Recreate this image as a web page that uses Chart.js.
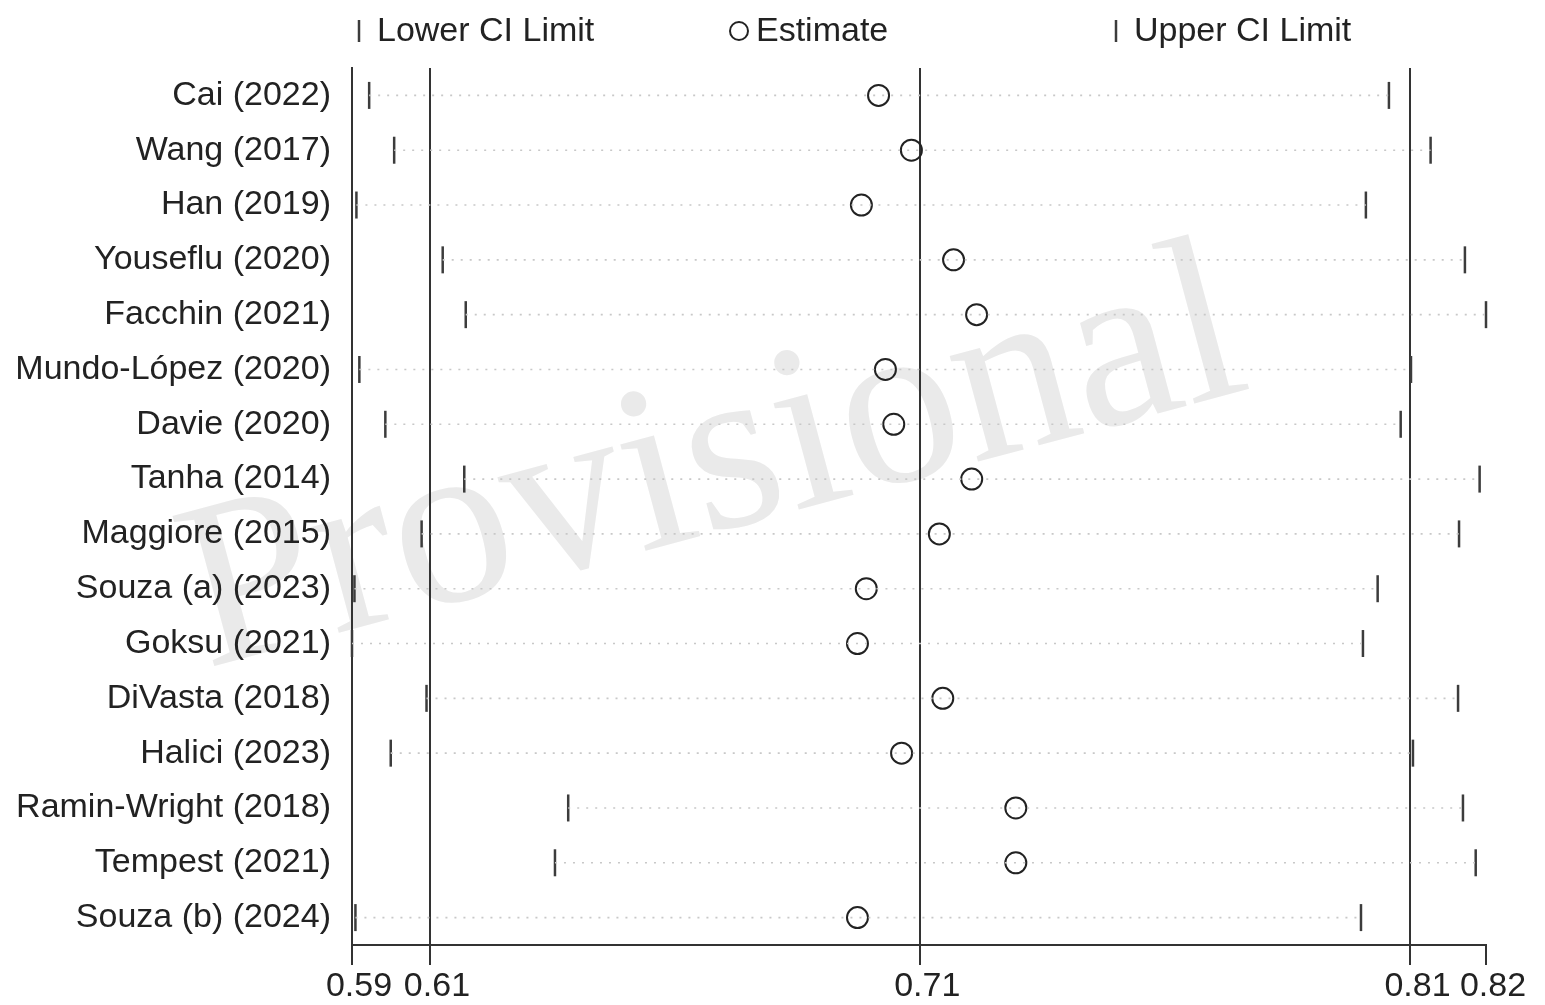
<!DOCTYPE html>
<html>
<head>
<meta charset="utf-8">
<script src="https://cdn.jsdelivr.net/npm/chart.js@4/dist/chart.umd.min.js"></script>
<style>
  html, body { margin: 0; padding: 0; background: #fff; }
  #wrap { width: 1545px; height: 1005px; position: relative; }
</style>
</head>
<body>
<div id="wrap"><canvas id="c"></canvas></div>
<script>
// Leave-one-out sensitivity analysis: pooled estimate with its confidence limits
const studies = [
  'Cai (2022)', 'Wang (2017)', 'Han (2019)', 'Youseflu (2020)', 'Facchin (2021)',
  'Mundo-López (2020)', 'Davie (2020)', 'Tanha (2014)', 'Maggiore (2015)',
  'Souza (a) (2023)', 'Goksu (2021)', 'DiVasta (2018)', 'Halici (2023)',
  'Ramin-Wright (2018)', 'Tempest (2021)', 'Souza (b) (2024)'
];
const estimate = [0.7015, 0.7082, 0.6980, 0.7168, 0.7215, 0.7029, 0.7046, 0.7205,
                  0.7139, 0.6990, 0.6972, 0.7146, 0.7062, 0.7295, 0.7295, 0.6972];
const lowerCI  = [0.5976, 0.6027, 0.5950, 0.6126, 0.6173, 0.5956, 0.6009, 0.6170,
                  0.6083, 0.5946, 0.5941, 0.6093, 0.6020, 0.6382, 0.6355, 0.5948];
const upperCI  = [0.8056, 0.8141, 0.8009, 0.8211, 0.8254, 0.8101, 0.8080, 0.8241,
                  0.8199, 0.8033, 0.8003, 0.8197, 0.8105, 0.8207, 0.8233, 0.7999];
const axisTicks = [0.5941, 0.61, 0.71, 0.81, 0.8254];
const axisTickLabels = ['0.59', '0.61', '0.71', '0.81', '0.82'];
const seriesNames = ['Lower CI Limit', 'Estimate', 'Upper CI Limit'];
const watermarkText = 'Provisional';

const FONT = '"Liberation Sans", Arial, Helvetica, sans-serif';
const INK = '#222';
const LINE = '#333';

// dotted span from lower to upper limit on every row
const spanSets = studies.map((s, i) => ({
  label: 'span-' + i,
  data: [{ x: lowerCI[i], y: s }, { x: upperCI[i], y: s }],
  borderColor: '#c8c8c8',
  borderWidth: 1.6,
  borderDash: [2, 7],
  pointRadius: 0,
  fill: false,
  clip: false
}));

const tickMarker = {
  showLine: false,
  pointStyle: 'line',
  rotation: 90,
  pointRadius: 13.5,
  pointBorderWidth: 2.5,
  pointBorderColor: '#3c3c3c',
  borderColor: '#3c3c3c',
  clip: false
};

const markerSets = [
  Object.assign({ label: seriesNames[0], data: studies.map((s, i) => ({ x: lowerCI[i], y: s })) }, tickMarker),
  {
    label: seriesNames[1],
    data: studies.map((s, i) => ({ x: estimate[i], y: s })),
    showLine: false,
    pointStyle: 'circle',
    pointRadius: 10.5,
    pointBorderWidth: 2,
    pointBorderColor: '#222',
    pointBackgroundColor: 'rgba(255,255,255,0)',
    borderColor: '#222',
    clip: false
  },
  Object.assign({ label: seriesNames[2], data: studies.map((s, i) => ({ x: upperCI[i], y: s })) }, tickMarker)
];

// faint diagonal stamp behind the plot
const stampPlugin = {
  id: 'stamp',
  beforeDraw(chart) {
    const ctx = chart.ctx;
    ctx.save();
    ctx.translate(730, 528);
    ctx.rotate(-15 * Math.PI / 180);
    ctx.font = '238px "Liberation Serif", "Times New Roman", serif';
    ctx.fillStyle = '#eaeaea';
    ctx.textAlign = 'center';
    ctx.textBaseline = 'alphabetic';
    ctx.fillText(watermarkText, 0, 0);
    ctx.restore();
  }
};

// key along the top edge: tick / circle / tick
const keyLayout = [
  { x: 359, kind: 'tick' },
  { x: 739, kind: 'circle' },
  { x: 1116, kind: 'tick' }
];
const keyPlugin = {
  id: 'key',
  afterDraw(chart) {
    const ctx = chart.ctx;
    const y = 31;
    ctx.save();
    ctx.font = '34px ' + FONT;
    ctx.fillStyle = INK;
    ctx.textAlign = 'left';
    ctx.textBaseline = 'middle';
    keyLayout.forEach((k, i) => {
      const ds = markerSets[i];
      if (k.kind === 'tick') {
        ctx.strokeStyle = '#3c3c3c';
        ctx.lineWidth = 2.5;
        ctx.beginPath();
        ctx.moveTo(k.x, y - 11);
        ctx.lineTo(k.x, y + 11);
        ctx.stroke();
        ctx.fillText(ds.label, k.x + 18, y + 1);
      } else {
        ctx.strokeStyle = '#222';
        ctx.lineWidth = 2;
        ctx.beginPath();
        ctx.arc(k.x, y, 9, 0, Math.PI * 2);
        ctx.stroke();
        ctx.fillText(ds.label, k.x + 17, y + 1);
      }
    });
    ctx.restore();
  }
};

new Chart(document.getElementById('c'), {
  type: 'line',
  data: { datasets: spanSets.concat(markerSets) },
  plugins: [stampPlugin, keyPlugin],
  options: {
    responsive: true,
    maintainAspectRatio: false,
    animation: false,
    events: [],
    layout: { padding: { top: 68, right: 59, bottom: 0, left: 0 } },
    plugins: { legend: { display: false }, tooltip: { enabled: false } },
    scales: {
      x: {
        type: 'linear',
        min: axisTicks[0],
        max: axisTicks[axisTicks.length - 1],
        afterBuildTicks: s => { s.ticks = axisTicks.map(v => ({ value: v })); },
        afterFit: s => { s.height = 60; },
        ticks: {
          callback: (v, i) => axisTickLabels[i],
          font: { family: FONT, size: 34 },
          color: INK,
          padding: 1,
          labelOffset: 7,
          autoSkip: false,
          maxRotation: 0,
          minRotation: 0
        },
        grid: {
          color: c => (c.index === axisTicks.length - 1 ? 'rgba(0,0,0,0)' : LINE),
          lineWidth: 2,
          tickLength: 20,
          tickColor: LINE,
          tickWidth: 2
        },
        border: { display: true, color: LINE, width: 2 }
      },
      y: {
        type: 'category',
        labels: studies,
        offset: true,
        afterFit: s => { s.width = 352; },
        grid: { display: false, drawTicks: false, offset: true },
        border: { display: true, color: LINE, width: 2 },
        ticks: {
          font: { family: FONT, size: 34 },
          color: INK,
          padding: 21,
          autoSkip: false
        }
      }
    }
  }
});
</script>
</body>
</html>
